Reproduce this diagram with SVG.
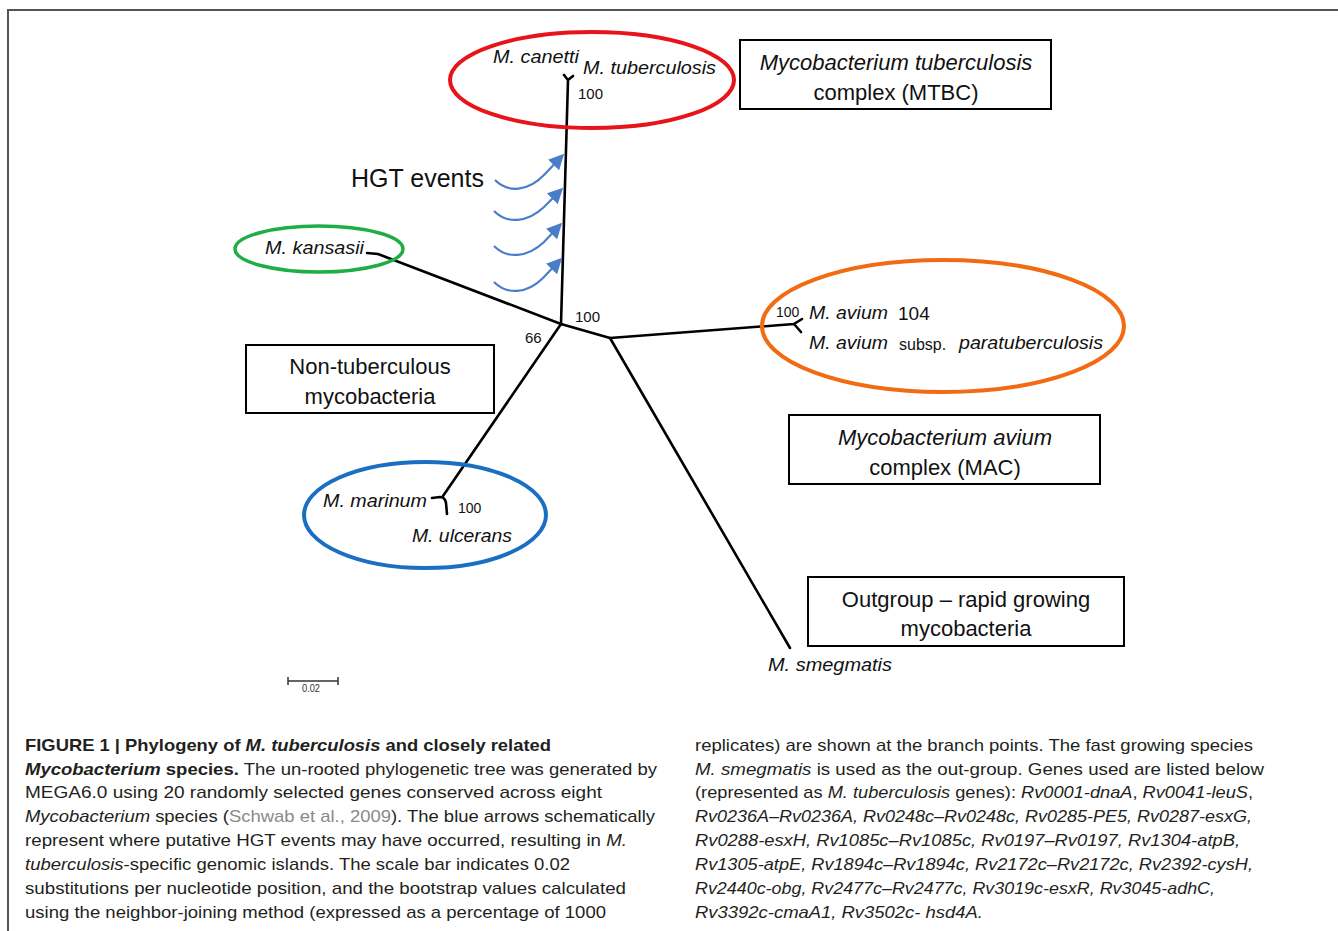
<svg xmlns="http://www.w3.org/2000/svg" width="1338" height="931" viewBox="0 0 1338 931">
<style>
.br{fill:none;stroke:#000;stroke-width:2.6;stroke-linecap:round;stroke-linejoin:round}
.hgt{fill:none;stroke:#4a7dc9;stroke-width:2.2}
.box{fill:#fff;stroke:#000;stroke-width:2}
.bt{font-family:"Liberation Sans",Arial,sans-serif;font-size:22px;fill:#111;text-anchor:middle}
.sp{font-family:"Liberation Sans",Arial,sans-serif;font-size:19px;font-style:italic;fill:#111}
.bs{font-family:"Liberation Sans",Arial,sans-serif;font-size:15px;fill:#111}
.cap{font-family:"Liberation Sans",Arial,sans-serif;font-size:17px;fill:#231f20}
.i{font-style:italic}
.b{font-weight:bold}
.g{fill:#8a8a8a}
</style>
<defs>
<marker id="ah" viewBox="0 0 10 10" refX="8" refY="5" markerWidth="7" markerHeight="7" orient="auto" markerUnits="strokeWidth">
<path d="M0,0 L10,5 L0,10 z" fill="#4a7dc9"/>
</marker>
</defs>
<rect width="1338" height="931" fill="#fff"/>
<g id="frame">
<path d="M8,931 L8,10 L1338,10" fill="none" stroke="#555" stroke-width="2"/>
</g>

<g id="connectors">
<path class="br" d="M561,324 L567,115 L568,80 M564,75 L568,80 L573,76"/>
<path class="br" d="M367,253 L378,254 L561,324"/>
<path class="br" d="M561,324 L610,338"/>
<path class="br" d="M610,338 L794,324 M794,324 L802,319 M794,324 L801,332"/>
<path class="br" d="M610,338 L790,648"/>
<path class="br" d="M561,324 L443,496 M432,498 L440,497 Q445,497 446,503 L447,514"/>
<path class="hgt" marker-end="url(#ah)" d="M495,180 C508,193 528,192 545,174 L562,156"/>
<path class="hgt" marker-end="url(#ah)" d="M494,211 C507,224 527,223 544,207 L561,190"/>
<path class="hgt" marker-end="url(#ah)" d="M494,246 C507,259 527,258 544,242 L560,225"/>
<path class="hgt" marker-end="url(#ah)" d="M494,282 C507,295 527,294 543,278 L560,260"/>
</g>

<g id="mtbc-cluster">
<ellipse cx="592" cy="80" rx="142" ry="48" fill="none" stroke="#e8141b" stroke-width="4"/>
<text class="sp" x="493" y="63" textLength="86" lengthAdjust="spacingAndGlyphs">M. canetti</text>
<text class="sp" x="583" y="74" textLength="133" lengthAdjust="spacingAndGlyphs">M. tuberculosis</text>
<text class="bs" x="578" y="99">100</text>
</g>

<g id="kansasii">
<ellipse cx="319" cy="249" rx="84" ry="23" fill="none" stroke="#1fae45" stroke-width="3.5"/>
<text class="sp" x="265" y="254" textLength="99" lengthAdjust="spacingAndGlyphs">M. kansasii</text>
</g>

<g id="mac-cluster">
<ellipse cx="943" cy="326" rx="181" ry="66" fill="none" stroke="#f26b12" stroke-width="4"/>
<text class="bs" x="776" y="317" style="font-size:14px">100</text>
<text class="sp" x="809" y="319" textLength="79" lengthAdjust="spacingAndGlyphs">M. avium</text>
<text class="bs" x="898" y="320" style="font-size:19px">104</text>
<text class="sp" x="809" y="349" textLength="79" lengthAdjust="spacingAndGlyphs">M. avium</text>
<text class="bs" x="899" y="350" style="font-size:16px">subsp.</text>
<text class="sp" x="959" y="349" textLength="144" lengthAdjust="spacingAndGlyphs">paratuberculosis</text>
</g>

<g id="marinum-cluster">
<ellipse cx="425" cy="515" rx="121" ry="53" fill="none" stroke="#1a6fc2" stroke-width="4"/>
<text class="sp" x="323" y="507" textLength="104" lengthAdjust="spacingAndGlyphs">M. marinum</text>
<text class="bs" x="458" y="513" style="font-size:14px">100</text>
<text class="sp" x="412" y="542" textLength="100" lengthAdjust="spacingAndGlyphs">M. ulcerans</text>
</g>

<g id="smegmatis">
<text class="sp" x="768" y="671" textLength="124" lengthAdjust="spacingAndGlyphs">M. smegmatis</text>
</g>

<g id="bootstrap-center">
<text class="bs" x="575" y="322">100</text>
<text class="bs" x="525" y="343">66</text>
</g>

<g id="hgt-label">
<text x="351" y="187" font-family="Liberation Sans,Arial,sans-serif" font-size="25" fill="#111">HGT events</text>
</g>

<g id="box-mtbc">
<rect class="box" x="740" y="40" width="311" height="69"/>
<text class="bt i" x="896" y="70">Mycobacterium tuberculosis</text>
<text class="bt" x="896" y="100">complex (MTBC)</text>
</g>

<g id="box-ntm">
<rect class="box" x="246" y="345" width="248" height="68"/>
<text class="bt" x="370" y="374">Non-tuberculous</text>
<text class="bt" x="370" y="404">mycobacteria</text>
</g>

<g id="box-mac">
<rect class="box" x="789" y="415" width="311" height="69"/>
<text class="bt i" x="945" y="445">Mycobacterium avium</text>
<text class="bt" x="945" y="475">complex (MAC)</text>
</g>

<g id="box-outgroup">
<rect class="box" x="808" y="577" width="316" height="69"/>
<text class="bt" x="966" y="607">Outgroup – rapid growing</text>
<text class="bt" x="966" y="636">mycobacteria</text>
</g>

<g id="scale-bar">
<path d="M288,681 L338,681 M288,677 L288,685 M338,677 L338,685" stroke="#333" stroke-width="1.5" fill="none"/>
<text x="302" y="692" font-family="Liberation Sans,Arial,sans-serif" font-size="10" fill="#333" textLength="18" lengthAdjust="spacingAndGlyphs">0.02</text>
</g>

<g id="caption">
<text class="cap" x="25" y="751" textLength="526" lengthAdjust="spacingAndGlyphs"><tspan class="b">FIGURE 1 | Phylogeny of </tspan><tspan class="b i">M. tuberculosis</tspan><tspan class="b"> and closely related</tspan></text>
<text class="cap" x="25" y="775" textLength="632" lengthAdjust="spacingAndGlyphs"><tspan class="b i">Mycobacterium</tspan><tspan class="b"> species.</tspan> The un-rooted phylogenetic tree was generated by</text>
<text class="cap" x="25" y="798" textLength="577" lengthAdjust="spacingAndGlyphs">MEGA6.0 using 20 randomly selected genes conserved across eight</text>
<text class="cap" x="25" y="822" textLength="630" lengthAdjust="spacingAndGlyphs"><tspan class="i">Mycobacterium</tspan> species (<tspan class="g">Schwab et al., 2009</tspan>). The blue arrows schematically</text>
<text class="cap" x="25" y="846" textLength="602" lengthAdjust="spacingAndGlyphs">represent where putative HGT events may have occurred, resulting in <tspan class="i">M.</tspan></text>
<text class="cap" x="25" y="870" textLength="545" lengthAdjust="spacingAndGlyphs"><tspan class="i">tuberculosis</tspan>-specific genomic islands. The scale bar indicates 0.02</text>
<text class="cap" x="25" y="894" textLength="601" lengthAdjust="spacingAndGlyphs">substitutions per nucleotide position, and the bootstrap values calculated</text>
<text class="cap" x="25" y="918" textLength="581" lengthAdjust="spacingAndGlyphs">using the neighbor-joining method (expressed as a percentage of 1000</text>

<text class="cap" x="695" y="751" textLength="558" lengthAdjust="spacingAndGlyphs">replicates) are shown at the branch points. The fast growing species</text>
<text class="cap" x="695" y="775" textLength="569" lengthAdjust="spacingAndGlyphs"><tspan class="i">M. smegmatis</tspan> is used as the out-group. Genes used are listed below</text>
<text class="cap" x="695" y="798" textLength="558" lengthAdjust="spacingAndGlyphs">(represented as <tspan class="i">M. tuberculosis</tspan> genes): <tspan class="i">Rv0001-dnaA</tspan>, <tspan class="i">Rv0041-leuS</tspan>,</text>
<text class="cap i" x="695" y="822" textLength="557" lengthAdjust="spacingAndGlyphs">Rv0236A–Rv0236A, Rv0248c–Rv0248c, Rv0285-PE5, Rv0287-esxG,</text>
<text class="cap i" x="695" y="846" textLength="545" lengthAdjust="spacingAndGlyphs">Rv0288-esxH, Rv1085c–Rv1085c, Rv0197–Rv0197, Rv1304-atpB,</text>
<text class="cap i" x="695" y="870" textLength="558" lengthAdjust="spacingAndGlyphs">Rv1305-atpE, Rv1894c–Rv1894c, Rv2172c–Rv2172c, Rv2392-cysH,</text>
<text class="cap i" x="695" y="894" textLength="520" lengthAdjust="spacingAndGlyphs">Rv2440c-obg, Rv2477c–Rv2477c, Rv3019c-esxR, Rv3045-adhC,</text>
<text class="cap i" x="695" y="918" textLength="288" lengthAdjust="spacingAndGlyphs">Rv3392c-cmaA1, Rv3502c- hsd4A.</text>
</g>
</svg>
